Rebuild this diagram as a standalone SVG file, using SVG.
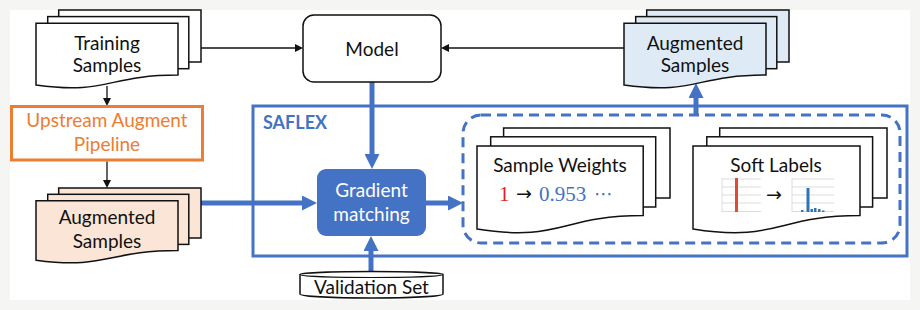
<svg xmlns="http://www.w3.org/2000/svg" width="920" height="310" viewBox="0 0 920 310">
<defs>
<style>
.t{font-family:Lato,"Noto Sans","Liberation Sans",sans-serif;font-size:19px;fill:#111;text-anchor:middle}
.doc{stroke:#111;stroke-width:1.5;stroke-linejoin:miter}
.thin{stroke:#111;stroke-width:1.3;fill:none}
.blue{stroke:#4472C4;stroke-width:5;fill:none}
.grid{stroke:#dcdcdc;stroke-width:1}
.m{font-family:"Liberation Serif","DejaVu Serif",serif;font-size:21px}
.ar{font-family:"DejaVu Sans",sans-serif;font-size:19px}
</style>
<marker id="ah" viewBox="0 0 8 8" refX="1" refY="4" markerWidth="8" markerHeight="8" markerUnits="userSpaceOnUse" orient="auto"><path d="M0,0 L8,4 L0,8 z" fill="#111"/></marker>
<marker id="bh" viewBox="0 0 15 15" refX="1" refY="7.5" markerWidth="15" markerHeight="15" markerUnits="userSpaceOnUse" orient="auto"><path d="M0,0 L15,7.5 L0,15 z" fill="#4472C4"/></marker>
</defs>
<rect x="0" y="0" width="920" height="310" fill="#f5f5f3"/>
<rect x="10" y="10" width="900" height="290" fill="#ffffff"/>

<g id="saflex">
<rect x="253" y="106" width="654" height="150" fill="none" stroke="#4472C4" stroke-width="3"/>
<text x="263" y="129" style="font-family:Lato,'Liberation Sans',sans-serif;font-size:18px;font-weight:bold;fill:#4472C4">SAFLEX</text>
</g>
<g id="outputs-box">
<rect x="463" y="115" width="437" height="128" rx="18" fill="none" stroke="#4472C4" stroke-width="3" stroke-dasharray="10 6"/>
</g>

<g id="connectors">
<line class="thin" x1="201" y1="48" x2="296" y2="48" marker-end="url(#ah)"/>
<line class="thin" x1="624" y1="48" x2="448" y2="48" marker-end="url(#ah)"/>
<line class="thin" x1="107" y1="86" x2="107" y2="99" marker-end="url(#ah)"/>
<line class="thin" x1="107" y1="161.5" x2="107" y2="181" marker-end="url(#ah)"/>
<line class="blue" x1="372" y1="82" x2="372" y2="155" marker-end="url(#bh)"/>
<line class="blue" x1="371" y1="272" x2="371" y2="250" marker-end="url(#bh)"/>
<line class="blue" x1="201" y1="203" x2="303" y2="203" marker-end="url(#bh)"/>
<line class="blue" x1="426" y1="203" x2="449" y2="203" marker-end="url(#bh)"/>
<line class="blue" x1="696" y1="115" x2="696" y2="97" marker-end="url(#bh)"/>
</g>

<g id="training-samples">
<rect class="doc" x="58.7" y="10" width="142.3" height="52" fill="#fff"/>
<rect class="doc" x="47.7" y="16.6" width="141.1" height="52.1" fill="#fff"/>
<path class="doc" fill="#fff" d="M36,85 C107,95 107,75.1 178,75.1 L178,23.3 L36,23.3 Z"/>
<text class="t" x="107" y="50">Training</text>
<text class="t" x="107" y="72">Samples</text>
</g>

<g id="upstream">
<rect x="11.5" y="106.5" width="191" height="53.5" fill="#fff" stroke="#ED7D31" stroke-width="3"/>
<text class="t" x="107" y="127" style="fill:#ED7D31">Upstream Augment</text>
<text class="t" x="107" y="151" style="fill:#ED7D31">Pipeline</text>
</g>

<g id="augmented-samples-in">
<rect class="doc" x="58.7" y="188" width="142.3" height="50" fill="#FBE5D6"/>
<rect class="doc" x="47.7" y="194.3" width="141.1" height="50.1" fill="#FBE5D6"/>
<path class="doc" fill="#FBE5D6" d="M36,260.2 C107,269.7 107,250.6 178,250.6 L178,200.8 L36,200.8 Z"/>
<text class="t" x="107" y="224">Augmented</text>
<text class="t" x="107" y="248">Samples</text>
</g>

<g id="model">
<rect x="303" y="15" width="138" height="67" rx="11" fill="#fff" stroke="#111" stroke-width="1.5"/>
<text class="t" x="372" y="56">Model</text>
</g>

<g id="augmented-samples-out">
<rect class="doc" x="646.7" y="10" width="142.3" height="52" fill="#DEEBF7"/>
<rect class="doc" x="635.7" y="16.6" width="141.1" height="52.1" fill="#DEEBF7"/>
<path class="doc" fill="#DEEBF7" d="M624,85 C695,95 695,75.1 766,75.1 L766,23.3 L624,23.3 Z"/>
<text class="t" x="695" y="50">Augmented</text>
<text class="t" x="695" y="72">Samples</text>
</g>

<g id="gradient-matching">
<rect x="317" y="169" width="109" height="67" rx="9" fill="#4472C4"/>
<text class="t" x="371.5" y="197" style="fill:#fff">Gradient</text>
<text class="t" x="371.5" y="221" style="fill:#fff">matching</text>
</g>

<g id="validation-set">
<path d="M300,274.5 A71.5,3 0 0 1 443,274.5 L443,294 A71.5,4 0 0 1 300,294 Z" fill="#fff" stroke="#111" stroke-width="1.5"/>
<path d="M300,274.5 A71.5,3 0 0 0 443,274.5" fill="none" stroke="#111" stroke-width="1.2"/>
<text class="t" x="371.5" y="294">Validation Set</text>
</g>

<g id="sample-weights">
<rect class="doc" x="503.6" y="128" width="166.4" height="70" fill="#fff"/>
<rect class="doc" x="490.7" y="136.8" width="165" height="70.2" fill="#fff"/>
<path class="doc" fill="#fff" d="M477,229 C560.1,242.4 560.1,215.6 643.2,215.6 L643.2,145.9 L477,145.9 Z"/>
<text class="t" x="560" y="172">Sample Weights</text>
<text class="m" x="499" y="201" fill="#E02020">1</text>
<text class="ar" x="516" y="200" fill="#111">→</text>
<text class="m" x="539" y="201" fill="#4472C4">0.953</text>
<text class="ar" x="594" y="200" fill="#4472C4">⋯</text>
</g>

<g id="soft-labels">
<rect class="doc" x="719.7" y="128" width="167.3" height="70" fill="#fff"/>
<rect class="doc" x="706.8" y="136.8" width="165.8" height="70.2" fill="#fff"/>
<path class="doc" fill="#fff" d="M693,229 C776.5,242.4 776.5,215.6 860,215.6 L860,145.9 L693,145.9 Z"/>
<text class="t" x="776" y="172">Soft Labels</text>
<g id="chart-before">
<line class="grid" x1="722" y1="179" x2="761" y2="179"/>
<line class="grid" x1="722" y1="187" x2="761" y2="187"/>
<line class="grid" x1="722" y1="195" x2="761" y2="195"/>
<line class="grid" x1="722" y1="203" x2="761" y2="203"/>
<line class="grid" x1="722" y1="211.5" x2="761" y2="211.5"/>
<line class="grid" x1="722" y1="178" x2="722" y2="212"/>
<rect x="735" y="178" width="3" height="34" fill="#E04B35"/>
</g>
<text class="ar" x="766" y="201" fill="#111">→</text>
<g id="chart-after">
<line class="grid" x1="792" y1="179" x2="834" y2="179"/>
<line class="grid" x1="792" y1="187" x2="834" y2="187"/>
<line class="grid" x1="792" y1="195" x2="834" y2="195"/>
<line class="grid" x1="792" y1="203" x2="834" y2="203"/>
<line class="grid" x1="792" y1="211.5" x2="834" y2="211.5"/>
<line class="grid" x1="792" y1="178" x2="792" y2="212"/>
<rect x="806.5" y="188" width="3" height="24" fill="#2E75B6"/>
<rect x="801" y="210" width="2.5" height="2" fill="#2E75B6"/>
<rect x="810.5" y="209" width="2.5" height="3" fill="#2E75B6"/>
<rect x="814" y="208" width="2.5" height="4" fill="#2E75B6"/>
<rect x="818" y="209" width="2.5" height="3" fill="#2E75B6"/>
<rect x="822" y="210.5" width="2.5" height="1.5" fill="#2E75B6"/>
</g>
</g>
</svg>
